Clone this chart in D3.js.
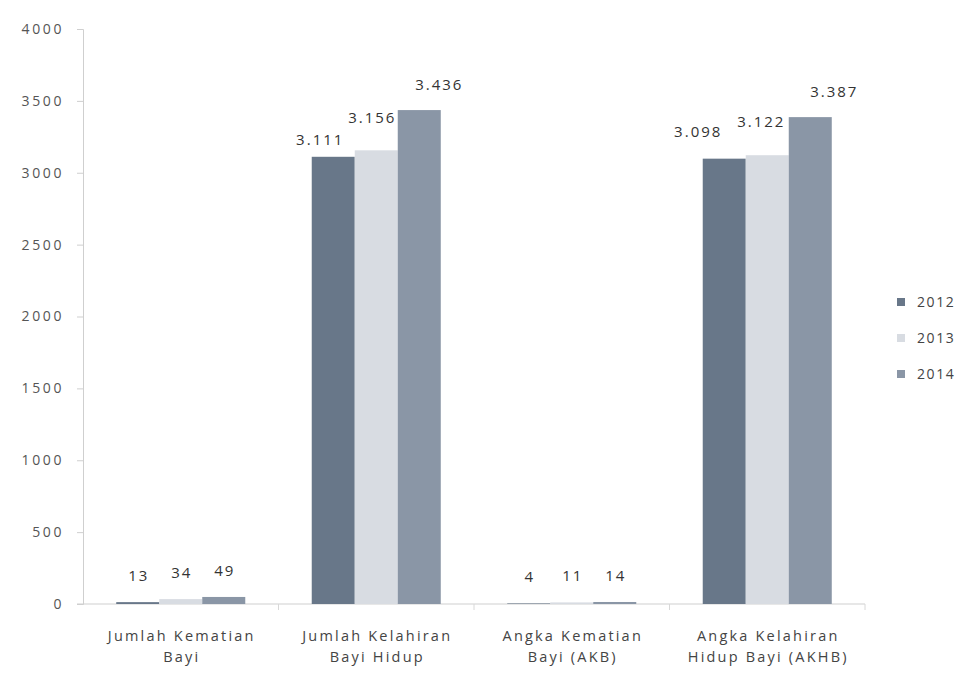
<!DOCTYPE html>
<html>
<head>
<meta charset="utf-8">
<script src="https://cdn.jsdelivr.net/npm/d3@7/dist/d3.min.js"></script>
<style>
  html, body { margin: 0; padding: 0; background: #ffffff; }
  svg { display: block; font-family: "Open Sans", Lato, sans-serif; }
</style>
</head>
<body>
<svg id="chart" width="968" height="675"></svg>
<script>
// Indicator categories (two-line labels) and yearly series
const categories = [
  ["Jumlah Kematian", "Bayi"],
  ["Jumlah Kelahiran", "Bayi Hidup"],
  ["Angka Kematian", "Bayi (AKB)"],
  ["Angka Kelahiran", "Hidup Bayi (AKHB)"]
];
const years = ["2012", "2013", "2014"];
const values2012 = [13, 3111, 4, 3098];
const values2013 = [34, 3156, 11, 3122];
const values2014 = [49, 3436, 14, 3387];
const valueLabels2012 = ["13", "3.111", "4", "3.098"];
const valueLabels2013 = ["34", "3.156", "11", "3.122"];
const valueLabels2014 = ["49", "3.436", "14", "3.387"];
const yTicks = [0, 500, 1000, 1500, 2000, 2500, 3000, 3500, 4000];

const seriesValues = [values2012, values2013, values2014];
const seriesLabels = [valueLabels2012, valueLabels2013, valueLabels2014];
const colors = ["#687789", "#d8dce2", "#8a96a6"];

const svg = d3.select("#chart");
const plotLeft = 83, plotRight = 865, plotTop = 29, plotBottom = 604;

const x0 = d3.scaleBand()
  .domain(d3.range(categories.length))
  .range([plotLeft, plotRight])
  .paddingInner(0.34)
  .paddingOuter(0.17);
const x1 = d3.scaleBand()
  .domain(d3.range(years.length))
  .range([0, x0.bandwidth()]);
const y = d3.scaleLinear().domain([0, 4000]).range([plotBottom, plotTop]);

// Y axis
const yAxis = d3.axisLeft(y)
  .tickValues(yTicks)
  .tickSize(6)
  .tickFormat(d => String(d));
const gy = svg.append("g").attr("transform", `translate(${plotLeft},0)`).call(yAxis);
gy.select(".domain").attr("stroke", "#cfcfcf");
gy.selectAll(".tick line").attr("stroke", "#cfcfcf");
gy.selectAll(".tick text")
  .attr("x", -19)
  .attr("fill", "#555")
  .style("font-family", "'Open Sans', sans-serif")
  .style("font-size", "14px")
  .style("letter-spacing", "2.6px");

// X axis baseline and category boundary ticks
svg.append("line")
  .attr("x1", plotLeft - 6).attr("x2", plotRight)
  .attr("y1", y(0)).attr("y2", y(0))
  .attr("stroke", "#cfcfcf");
const step = x0.step();
const boundaries = d3.range(1, categories.length + 1)
  .map(i => x0(i - 1) + x0.bandwidth() + (step - x0.bandwidth()) / 2);
svg.selectAll("line.cat-tick")
  .data(boundaries)
  .join("line")
  .attr("class", "cat-tick")
  .attr("x1", d => d).attr("x2", d => d)
  .attr("y1", y(0)).attr("y2", y(0) + 6)
  .attr("stroke", "#d8d8d8");

// Bars
const rows = [];
categories.forEach((c, ci) => {
  seriesValues.forEach((vals, si) => {
    rows.push({ ci, si, value: vals[ci], label: seriesLabels[si][ci] });
  });
});

svg.append("g").selectAll("rect")
  .data(rows)
  .join("rect")
  .attr("x", d => x0(d.ci) + x1(d.si))
  .attr("y", d => y(d.value))
  .attr("width", x1.bandwidth())
  .attr("height", d => y(0) - y(d.value))
  .attr("fill", d => colors[d.si]);

// Data labels; the large-value labels are spread apart so they do not collide
const nudges = {
  "1-0": [-14, -12], "1-1": [-5, -27], "1-2": [19, -20],
  "3-0": [-27, -22], "3-1": [-7, -28], "3-2": [23, -20]
};
const nudge = d => nudges[`${d.ci}-${d.si}`] || [0, -21];
svg.append("g").selectAll("text")
  .data(rows)
  .join("text")
  .attr("x", d => x0(d.ci) + x1(d.si) + x1.bandwidth() / 2 + nudge(d)[0] + 1)
  .attr("y", d => y(d.value) + nudge(d)[1])
  .attr("text-anchor", "middle")
  .attr("fill", "#333")
  .style("font-size", "15px")
  .style("letter-spacing", "2px")
  .text(d => d.label);

// Category labels
const catLabels = svg.append("g").selectAll("text")
  .data(categories)
  .join("text")
  .attr("x", (d, i) => x0(i) + x0.bandwidth() / 2 + 1)
  .attr("y", 641)
  .attr("text-anchor", "middle")
  .attr("fill", "#444")
  .style("font-size", "14.5px")
  .style("letter-spacing", "2.2px");
catLabels.selectAll("tspan")
  .data(d => d)
  .join("tspan")
  .attr("x", function () { return d3.select(this.parentNode).attr("x"); })
  .attr("dy", (d, i) => i === 0 ? 0 : 21)
  .text(d => d);

// Legend
const legend = svg.append("g").selectAll("g")
  .data(years)
  .join("g")
  .attr("transform", (d, i) => `translate(897,${302 + i * 36})`);
legend.append("rect")
  .attr("x", 0).attr("y", -4)
  .attr("width", 8).attr("height", 8)
  .attr("fill", (d, i) => colors[i]);
legend.append("text")
  .attr("x", 20).attr("y", 5)
  .attr("fill", "#444")
  .style("font-size", "14px")
  .style("letter-spacing", "1.6px")
  .text(d => d);
</script>
</body>
</html>
